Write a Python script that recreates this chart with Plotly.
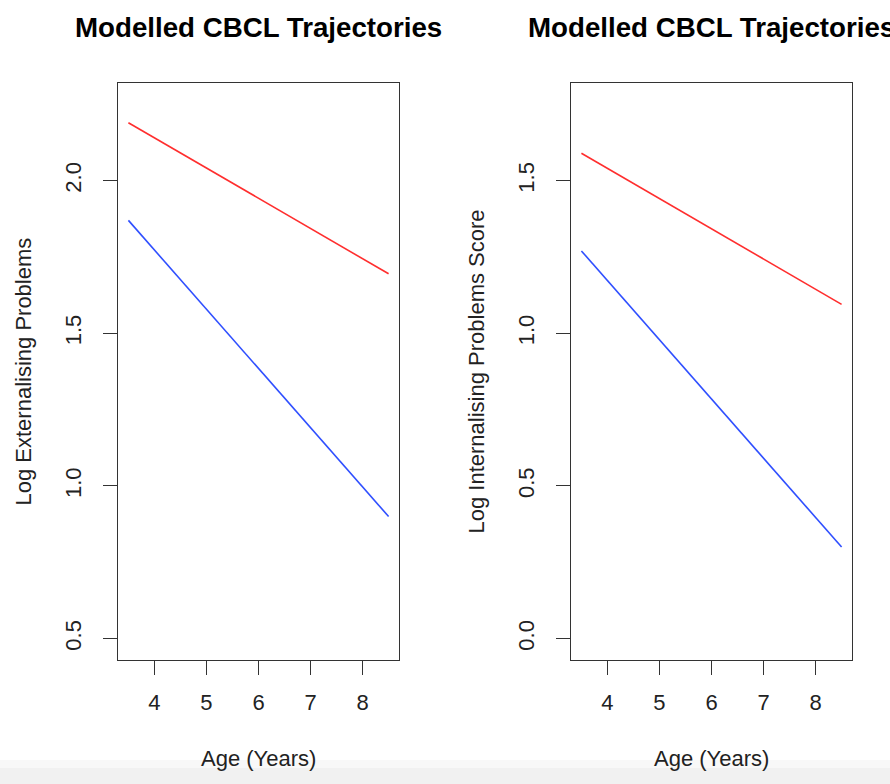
import plotly.graph_objects as go

# Modelled trajectories: two groups, ages 3.5 to 8.5
ages = [3.5, 8.5]
ext_red = [2.19, 1.695]
ext_blue = [1.87, 0.90]
int_red = [1.59, 1.095]
int_blue = [1.27, 0.30]

x_ticks = [4, 5, 6, 7, 8]
ext_ticks = [0.5, 1.0, 1.5, 2.0]
int_ticks = [0.0, 0.5, 1.0, 1.5]

W, H = 890, 784
FONT = "Liberation Sans, Arial, Helvetica, sans-serif"
INK = "#222222"
RED = "#ff2e2e"
BLUE = "#2f4fff"


def px(x):
    return x / W


def py(y):
    return 1 - y / H


fig = go.Figure()

for xa, ya, red, blue in [("x", "y", ext_red, ext_blue), ("x2", "y2", int_red, int_blue)]:
    fig.add_trace(go.Scatter(x=ages, y=red, mode="lines", xaxis=xa, yaxis=ya,
                             line=dict(color=RED, width=1.6), showlegend=False))
    fig.add_trace(go.Scatter(x=ages, y=blue, mode="lines", xaxis=xa, yaxis=ya,
                             line=dict(color=BLUE, width=1.6), showlegend=False))

common_axis = dict(
    showgrid=False, zeroline=False, showline=True, mirror=True,
    linecolor="#333333", linewidth=1.3,
    ticks="outside", ticklen=14, tickwidth=1.2, tickcolor="#333333",
    tickfont=dict(family=FONT, size=22, color=INK),
)

y_top, y_bot = 83, 660
fig.update_layout(
    width=W, height=H,
    margin=dict(l=0, r=0, t=0, b=0),
    paper_bgcolor="white", plot_bgcolor="white",
    xaxis=dict(domain=[px(118), px(399)], range=[3.3, 8.7], tickvals=x_ticks,
               anchor="y", ticklabelstandoff=8, **common_axis),
    yaxis=dict(domain=[py(y_bot), py(y_top)], range=[0.43, 2.32], tickvals=ext_ticks,
               tickformat=".1f", tickangle=-90, anchor="x", ticklabelstandoff=13,
               **common_axis),
    xaxis2=dict(domain=[px(571), px(852)], range=[3.3, 8.7], tickvals=x_ticks,
                anchor="y2", ticklabelstandoff=8, **common_axis),
    yaxis2=dict(domain=[py(y_bot), py(y_top)], range=[-0.07, 1.82], tickvals=int_ticks,
                tickformat=".1f", tickangle=-90, anchor="x2", ticklabelstandoff=13,
                **common_axis),
)

title_font = dict(family=FONT, size=27.7, color="black")
label_font = dict(family=FONT, size=22, color=INK)
annotations = []
for cx, ylab_x, ylab in [(258.5, 23, "Log Externalising Problems"),
                         (711.5, 476, "Log Internalising Problems Score")]:
    annotations.append(dict(text="<b>Modelled CBCL Trajectories</b>", x=px(cx), y=py(28),
                            xref="paper", yref="paper", showarrow=False,
                            xanchor="center", yanchor="middle", font=title_font))
    annotations.append(dict(text="Age (Years)", x=px(cx), y=py(758),
                            xref="paper", yref="paper", showarrow=False,
                            xanchor="center", yanchor="middle", font=label_font))
    annotations.append(dict(text=ylab, x=px(ylab_x), y=py((y_top + y_bot) / 2),
                            xref="paper", yref="paper", showarrow=False, textangle=-90,
                            xanchor="center", yanchor="middle", font=label_font))
fig.update_layout(annotations=annotations)

# faint grey band along the bottom edge
fig.add_shape(type="rect", xref="paper", yref="paper", x0=0, x1=1, y0=0, y1=py(768),
              fillcolor="#f1f1f1", line_width=0, layer="below")
fig.add_shape(type="rect", xref="paper", yref="paper", x0=0, x1=1, y0=py(768), y1=py(760),
              fillcolor="#f8f8f8", line_width=0, layer="below")

fig.write_html("out.html")
